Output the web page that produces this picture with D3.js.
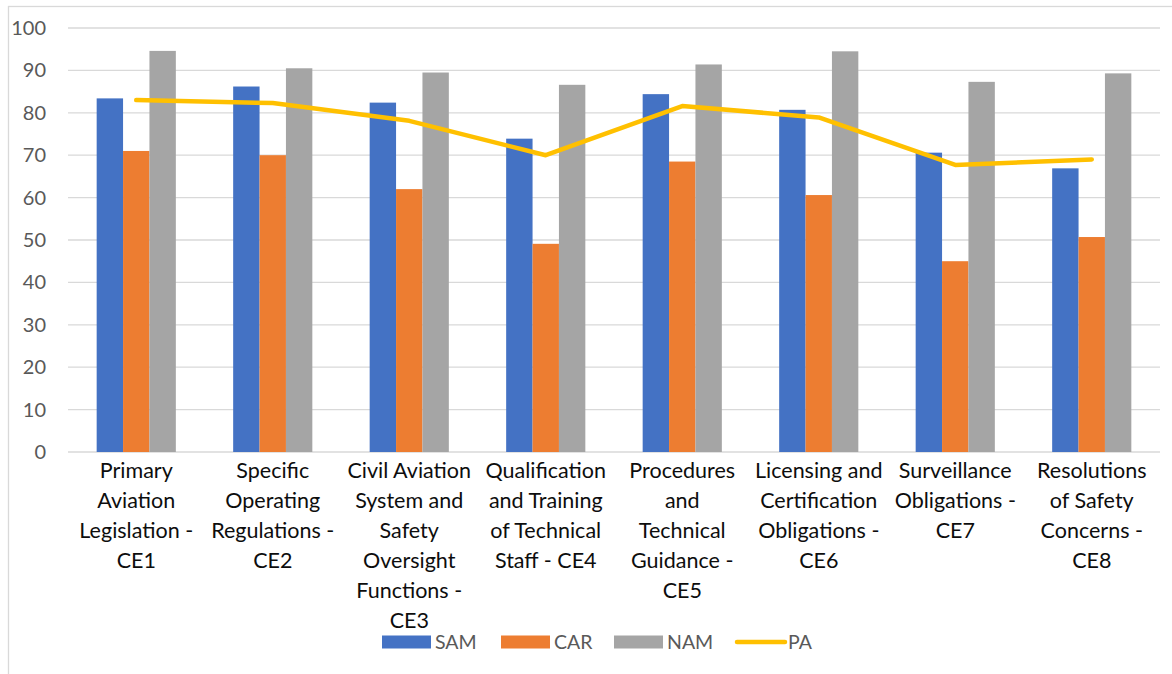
<!DOCTYPE html>
<html>
<head>
<meta charset="utf-8">
<script src="https://cdn.jsdelivr.net/npm/d3@7"></script>
<style>
  body { margin: 0; background: #fff; }
  svg { display: block; font-family: Lato, "Open Sans", sans-serif; }
</style>
</head>
<body>
<div id="chart"></div>
<script>
// category labels, already split the way the original wraps them
var CATEGORIES = [
  ["Primary", "Aviation", "Legislation -", "CE1"],
  ["Specific", "Operating", "Regulations -", "CE2"],
  ["Civil Aviation", "System and", "Safety", "Oversight", "Functions -", "CE3"],
  ["Qualification", "and Training", "of Technical", "Staff - CE4"],
  ["Procedures", "and", "Technical", "Guidance -", "CE5"],
  ["Licensing and", "Certification", "Obligations -", "CE6"],
  ["Surveillance", "Obligations -", "CE7"],
  ["Resolutions", "of Safety", "Concerns -", "CE8"]
];
var SAM = [83.4, 86.2, 82.4, 73.9, 84.4, 80.7, 70.6, 66.9];
var CAR = [71.0, 70.0, 62.0, 49.1, 68.5, 60.6, 45.0, 50.7];
var NAM = [94.6, 90.5, 89.5, 86.6, 91.4, 94.5, 87.3, 89.3];
var PA  = [83.0, 82.3, 78.1, 70.0, 81.6, 78.9, 67.7, 69.0];
var Y_TICKS = [0, 10, 20, 30, 40, 50, 60, 70, 80, 90, 100];

var SERIES = [
  {name: "SAM", values: SAM, color: "#4472C4"},
  {name: "CAR", values: CAR, color: "#ED7D31"},
  {name: "NAM", values: NAM, color: "#A5A5A5"}
];

var W = 1172, H = 674;
var svg = d3.select("#chart").append("svg")
  .attr("width", W)
  .attr("height", H);

// outer chart frame
svg.append("rect")
  .attr("x", 8.5).attr("y", 6.5)
  .attr("width", W).attr("height", H)
  .attr("fill", "none")
  .attr("stroke", "#d9d9d9")
  .attr("stroke-width", 1.3);

var x = d3.scaleBand()
  .domain(d3.range(CATEGORIES.length))
  .range([68, 1160])
  .paddingInner(0.42)
  .paddingOuter(0.21);

var xs = d3.scaleBand()
  .domain(SERIES.map(function(s) { return s.name; }))
  .range([0, x.bandwidth()]);

var y = d3.scaleLinear()
  .domain([0, 100])
  .range([452, 28]);

// gridlines
svg.append("g")
  .selectAll("line")
  .data(Y_TICKS)
  .join("line")
  .attr("x1", 68).attr("x2", 1160)
  .attr("y1", function(d) { return y(d); })
  .attr("y2", function(d) { return y(d); })
  .attr("stroke", "#d9d9d9")
  .attr("stroke-width", 1.3);

// y axis labels
var yAxis = d3.axisLeft(y).tickValues(Y_TICKS).tickSize(0).tickPadding(0);
svg.append("g")
  .attr("transform", "translate(46,0)")
  .call(yAxis)
  .call(function(g) { g.select(".domain").remove(); })
  .selectAll("text")
  .attr("font-family", "Lato, sans-serif")
  .attr("font-size", 20)
  .attr("fill", "#595959");

// bars
SERIES.forEach(function(s) {
  svg.append("g")
    .selectAll("rect")
    .data(s.values)
    .join("rect")
    .attr("x", function(d, i) { return x(i) + xs(s.name); })
    .attr("y", function(d) { return y(d); })
    .attr("width", xs.bandwidth())
    .attr("height", function(d) { return y(0) - y(d); })
    .attr("fill", s.color);
});

// PA line
var line = d3.line()
  .x(function(d, i) { return x(i) + x.bandwidth() / 2; })
  .y(function(d) { return y(d); });

svg.append("path")
  .datum(PA)
  .attr("d", line)
  .attr("fill", "none")
  .attr("stroke", "#FFC000")
  .attr("stroke-width", 4.5)
  .attr("stroke-linecap", "round")
  .attr("stroke-linejoin", "round");

// category labels
var labels = svg.append("g")
  .selectAll("text")
  .data(CATEGORIES)
  .join("text")
  .attr("text-anchor", "middle")
  .attr("font-size", 21.5)
  .attr("fill", "#0d0d0d");

labels.selectAll("tspan")
  .data(function(d, i) { return d.map(function(t) { return {t: t, i: i}; }); })
  .join("tspan")
  .attr("x", function(d) { return x(d.i) + x.bandwidth() / 2; })
  .attr("y", function(d, j) { return 478 + j * 30; })
  .text(function(d) { return d.t; });

// legend
var legendItems = [
  {name: "SAM", color: "#4472C4", type: "bar", x: 382},
  {name: "CAR", color: "#ED7D31", type: "bar", x: 501},
  {name: "NAM", color: "#A5A5A5", type: "bar", x: 614},
  {name: "PA", color: "#FFC000", type: "line", x: 735}
];
var lg = svg.append("g")
  .selectAll("g")
  .data(legendItems)
  .join("g")
  .attr("transform", function(d) { return "translate(" + d.x + ",642)"; });

lg.filter(function(d) { return d.type === "bar"; })
  .append("rect")
  .attr("x", 0).attr("y", -6.5)
  .attr("width", 49).attr("height", 13)
  .attr("fill", function(d) { return d.color; });

lg.filter(function(d) { return d.type === "line"; })
  .append("line")
  .attr("x1", 2).attr("x2", 50)
  .attr("stroke", function(d) { return d.color; })
  .attr("stroke-width", 4.5)
  .attr("stroke-linecap", "round");

lg.append("text")
  .attr("x", 53)
  .attr("dy", "0.35em")
  .attr("font-size", 19.5)
  .attr("fill", "#595959")
  .text(function(d) { return d.name; });
</script>
</body>
</html>
